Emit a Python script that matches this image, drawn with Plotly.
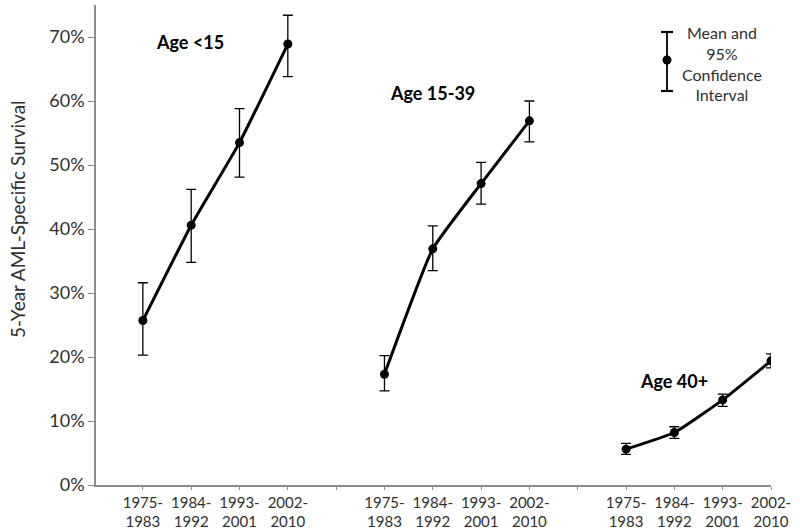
import plotly.graph_objects as go

periods = ["1975-<br>1983", "1984-<br>1992", "1993-<br>2001", "2002-<br>2010"]
groups = ["Age <15", "Age 15-39", "Age 40+"]

mean_lt15 = [25.7, 40.6, 53.5, 68.9]
lo_lt15 = [20.3, 34.8, 48.1, 63.8]
hi_lt15 = [31.6, 46.2, 58.8, 73.4]

mean_15_39 = [17.3, 36.9, 47.1, 56.9]
lo_15_39 = [14.7, 33.5, 43.9, 53.6]
hi_15_39 = [20.2, 40.5, 50.4, 60.0]

mean_40p = [5.6, 8.2, 13.3, 19.4]
lo_40p = [4.8, 7.3, 12.3, 18.3]
hi_40p = [6.5, 9.1, 14.2, 20.5]

series = [
    (mean_lt15, lo_lt15, hi_lt15),
    (mean_15_39, lo_15_39, hi_15_39),
    (mean_40p, lo_40p, hi_40p),
]

FONT = "Lato, Calibri, Carlito, sans-serif"
AXIS_COLOR = "#8c8c8c"
TEXT_COLOR = "#303030"

fig = go.Figure()
tickvals, ticktext = [], []
for g, (m, lo, hi) in enumerate(series):
    xs = [g * 5 + i for i in range(len(periods))]
    tickvals += xs
    ticktext += periods
    if g < len(series) - 1:
        tickvals.append(g * 5 + 4)
        ticktext.append("")
    yv = [v / 100 for v in m]
    fig.add_trace(go.Scatter(
        x=xs, y=yv, mode="lines+markers",
        line=dict(color="black", width=3, shape="spline", smoothing=0.4),
        marker=dict(color="black", size=9),
        error_y=dict(type="data", symmetric=False,
                     array=[(h - v) / 100 for h, v in zip(hi, m)],
                     arrayminus=[(v - l) / 100 for v, l in zip(m, lo)],
                     color="black", thickness=1.3, width=5),
        showlegend=False, hoverinfo="skip",
    ))

# group labels
label_pos = [(0.97, 0.692), (6.0, 0.6125), (11.0, 0.1625)]
for name, (lx, ly) in zip(groups, label_pos):
    fig.add_annotation(x=lx, y=ly, text="<b>%s</b>" % name, showarrow=False,
                       font=dict(family=FONT, size=18, color="black"),
                       xanchor="center", yanchor="middle")

# legend symbol (manual key)
PW = 771 - 96
PH = 485 - 5
lx0 = (667 - 96) / PW
def py(p):
    return (485 - p) / PH
def px(p):
    return (p - 96) / PW
fig.add_shape(type="line", xref="paper", yref="paper", x0=lx0, x1=lx0, y0=py(91), y1=py(32),
              line=dict(color="black", width=1.8))
for yy in (32, 91):
    fig.add_shape(type="line", xref="paper", yref="paper", x0=lx0 - 6 / PW, x1=lx0 + 6 / PW,
                  y0=py(yy), y1=py(yy), line=dict(color="black", width=2.2))
fig.add_shape(type="circle", xref="paper", yref="paper", x0=lx0 - 4.5 / PW, x1=lx0 + 4.5 / PW,
              y0=py(64.5), y1=py(55.5), fillcolor="black", line=dict(color="black", width=0))
fig.add_annotation(xref="paper", yref="paper", x=px(722), y=py(63),
                   text="Mean and<br>95%<br>Confidence<br>Interval", showarrow=False,
                   align="center", xanchor="center", yanchor="middle",
                   font=dict(family=FONT, size=16, color=TEXT_COLOR))

# y-axis title
fig.add_annotation(xref="paper", yref="paper", x=px(17), y=py(219),
                   text="5-Year AML-Specific Survival", showarrow=False, textangle=-90,
                   xanchor="center", yanchor="middle",
                   font=dict(family=FONT, size=19, color=TEXT_COLOR))

fig.update_layout(
    width=800, height=531,
    margin=dict(l=96, r=29, t=5, b=46),
    paper_bgcolor="white", plot_bgcolor="white",
    font=dict(family=FONT, color=TEXT_COLOR),
    xaxis=dict(range=[-0.97, 13.0], tickmode="array", tickvals=tickvals, ticktext=ticktext,
               automargin=False,
               showgrid=False, zeroline=False, showline=True, linecolor=AXIS_COLOR, linewidth=1.5,
               ticks="outside", ticklen=3, tickcolor=AXIS_COLOR,
               tickfont=dict(family=FONT, size=15, color=TEXT_COLOR)),
    yaxis=dict(range=[0, 0.75], tickmode="array", tickvals=[i / 10 for i in range(8)],
               automargin=False,
               tickformat=".0%", showgrid=False, zeroline=False, showline=True,
               linecolor=AXIS_COLOR, linewidth=1.5, ticks="outside", ticklen=6,
               tickcolor=AXIS_COLOR, tickfont=dict(family=FONT, size=18, color=TEXT_COLOR)),
)

fig.write_html("out.html", config={"displayModeBar": False},
               post_script="document.body.style.margin='0';")
